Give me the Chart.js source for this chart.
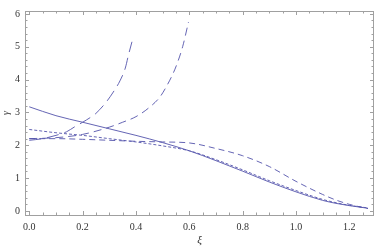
<!DOCTYPE html>
<html>
<head>
<meta charset="utf-8">
<script src="https://cdn.jsdelivr.net/npm/chart.js@4.4.1/dist/chart.umd.min.js"></script>
<style>
    html, body { margin: 0; padding: 0; background: #ffffff; }
    #wrap { width: 375px; height: 248px; }
</style>
</head>
<body>
<div id="wrap"><canvas id="plot" width="375" height="248"></canvas></div>
<script>
// grid of xi shared by the full-range curves
const xiFull = [0, 0.1, 0.2, 0.3, 0.4, 0.5, 0.6, 0.7, 0.8, 0.9, 1.0, 1.1, 1.15, 1.2, 1.27];
const solidY = [3.17, 2.9, 2.7, 2.5, 2.3, 2.08, 1.83, 1.53, 1.21, 0.88, 0.58, 0.32, 0.23, 0.16, 0.08];
const shortDashY = [2.48, 2.38, 2.3, 2.2, 2.1, 1.98, 1.83, 1.56, 1.25, 0.92, 0.62, 0.35, 0.25, 0.17, 0.09];
const flatDashY = [2.2, 2.2, 2.18, 2.15, 2.12, 2.1, 2.07, 1.9, 1.68, 1.35, 0.9, 0.5, 0.33, 0.2, 0.07];

// steep curve that blows up near 0.39
const xiSteep = [0, 0.05, 0.1, 0.14, 0.17, 0.2, 0.23, 0.25, 0.29, 0.315, 0.34, 0.36, 0.372, 0.385];
const steepY = [2.15, 2.2, 2.3, 2.41, 2.56, 2.7, 2.85, 2.97, 3.33, 3.62, 3.96, 4.35, 4.75, 5.15];

// curve that blows up near 0.6
const xiMid = [0, 0.1, 0.2, 0.3, 0.35, 0.4, 0.45, 0.49, 0.515, 0.54, 0.555, 0.575, 0.597];
const midY = [2.2, 2.23, 2.33, 2.55, 2.7, 2.87, 3.15, 3.47, 3.8, 4.2, 4.5, 5.0, 5.75];

const xTicks = [0, 0.2, 0.4, 0.6, 0.8, 1.0, 1.2];
const yTicks = [0, 1, 2, 3, 4, 5, 6];

const lineColor = '#5454ac';
const frameColor = '#a0a0a0';

const toPoints = (xs, ys) => xs.map((x, i) => ({ x: x, y: ys[i] }));

const series = [
    { data: toPoints(xiFull, solidY), dash: [] },
    { data: toPoints(xiFull, shortDashY), dash: [3, 2] },
    { data: toPoints(xiFull, flatDashY), dash: [6, 4] },
    { data: toPoints(xiSteep, steepY), dash: [12, 6] },
    { data: toPoints(xiMid, midY), dash: [8, 5] },
];

// frame with inward major/minor ticks on all four sides
const framePlugin = {
    id: 'frame',
    afterDraw(chart) {
        const { ctx, chartArea: a, scales } = chart;
        const xs = scales.x;
        const ys = scales.y;
        ctx.save();
        ctx.strokeStyle = frameColor;
        ctx.lineWidth = 1;
        ctx.strokeRect(a.left + 0.5, a.top + 0.5, a.right - a.left - 1, a.bottom - a.top);

        ctx.beginPath();
        for (let i = 0; i <= 26; i++) {
            const v = i * 0.05;
            const px = Math.round(xs.getPixelForValue(v)) + 0.5;
            const len = i % 4 === 0 ? 4 : 2.5;
            ctx.moveTo(px, a.bottom);
            ctx.lineTo(px, a.bottom - len);
            ctx.moveTo(px, a.top);
            ctx.lineTo(px, a.top + len);
        }
        for (let i = 0; i <= 30; i++) {
            const v = i * 0.2;
            const py = Math.round(ys.getPixelForValue(v)) + 0.5;
            const len = i % 5 === 0 ? 4 : 2.5;
            ctx.moveTo(a.left, py);
            ctx.lineTo(a.left + len, py);
            ctx.moveTo(a.right, py);
            ctx.lineTo(a.right - len, py);
        }
        ctx.stroke();
        ctx.restore();
    },
};

new Chart(document.getElementById('plot'), {
    type: 'line',
    data: {
        datasets: series.map((s) => ({
            data: s.data,
            borderColor: lineColor,
            borderWidth: 0.9,
            borderDash: s.dash,
            pointRadius: 0,
            fill: false,
            cubicInterpolationMode: 'monotone',
        })),
    },
    options: {
        responsive: false,
        animation: false,
        layout: {
            padding: { left: 0, right: 1, top: 2, bottom: 0 },
        },
        plugins: {
            legend: { display: false },
            tooltip: { enabled: false },
        },
        scales: {
            x: {
                type: 'linear',
                min: -0.016,
                max: 1.2925,
                afterBuildTicks: (scale) => {
                    scale.ticks = xTicks.map((v) => ({ value: v }));
                },
                afterFit: (scale) => {
                    scale.height = 33;
                },
                border: { display: false },
                grid: { display: false, drawTicks: false },
                ticks: {
                    padding: 6,
                    color: '#333333',
                    font: { family: 'Liberation Serif', size: 10 },
                    callback: (v) => Number(v).toFixed(1),
                },
                title: {
                    display: true,
                    text: 'ξ',
                    color: '#333333',
                    padding: { top: 0, bottom: 1 },
                    font: { family: 'Liberation Serif', size: 11, style: 'italic' },
                },
            },
            y: {
                type: 'linear',
                min: -0.125,
                max: 6.088,
                afterBuildTicks: (scale) => {
                    scale.ticks = yTicks.map((v) => ({ value: v }));
                },
                afterFit: (scale) => {
                    scale.width = 25;
                },
                border: { display: false },
                grid: { display: false, drawTicks: false },
                ticks: {
                    padding: 5,
                    color: '#333333',
                    font: { family: 'Liberation Serif', size: 10 },
                    callback: (v) => String(v),
                },
                title: {
                    display: true,
                    text: 'γ',
                    color: '#333333',
                    padding: { top: 0, bottom: 0 },
                    font: { family: 'Liberation Serif', size: 10, style: 'italic' },
                },
            },
        },
    },
    plugins: [framePlugin],
});
</script>
</body>
</html>
